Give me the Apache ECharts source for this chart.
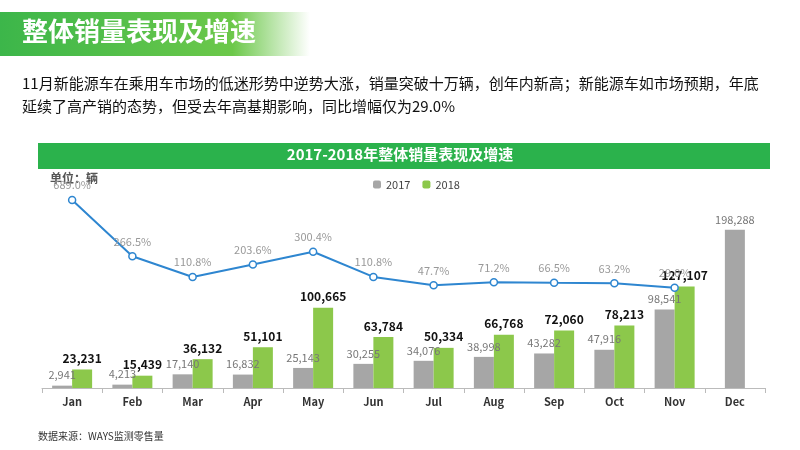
<!DOCTYPE html><html><head><meta charset="utf-8">
<script src="https://cdn.jsdelivr.net/npm/echarts@6/dist/echarts.min.js"></script>
<style>html,body{margin:0;padding:0;background:#fff}#c{width:800px;height:450px}</style></head><body><div id="c"></div>
<script>
const categories=['Jan','Feb','Mar','Apr','May','Jun','Jul','Aug','Sep','Oct','Nov','Dec'];
const sales2017=[2941,4213,17140,16832,25143,30255,34076,38998,43282,47916,98541,'-'];
const sales2018=[23231,15439,36132,51101,100665,63784,50334,66768,72060,78213,127107,'-'];
const dec2017=['-','-','-','-','-','-','-','-','-','-','-',198288];
const growth=[689.0,266.5,110.8,203.6,300.4,110.8,47.7,71.2,66.5,63.2,29.0];
const fmt=v=>v.value.toLocaleString('en-US');
const F='"Microsoft YaHei","Noto Sans CJK SC",sans-serif';
const ch=echarts.init(document.getElementById('c'));
ch.setOption({
 animation:false,
 textStyle:{fontFamily:F},
 graphic:[
  {type:'rect',shape:{x:0,y:12,width:310,height:44},style:{fill:new echarts.graphic.LinearGradient(0,0,1,0,[{offset:0,color:'#3cb64a'},{offset:0.75,color:'#6cc84a'},{offset:1,color:'#ffffff'}])}},
  {type:'text',left:22,top:18,style:{text:'整体销量表现及增速',fill:'#fff',font:'bold 26px '+F}},
  {type:'text',left:22,top:72,style:{text:'11月新能源车在乘用车市场的低迷形势中逆势大涨，销量突破十万辆，创年内新高；新能源车如市场预期，年底\n延续了高产销的态势，但受去年高基期影响，同比增幅仅为29.0%',fill:'#111',font:'15px '+F,lineHeight:23}},
  {type:'rect',shape:{x:38,y:143,width:732,height:26},style:{fill:'#2bb24c'}},
  {type:'text',left:'center',top:147,style:{text:'2017-2018年整体销量表现及增速',fill:'#fff',font:'bold 15px '+F}},
  {type:'text',left:50,top:172,style:{text:'单位：辆',fill:'#555',font:'bold 12px '+F}},
  {type:'text',left:38,top:431,style:{text:'数据来源：WAYS监测零售量',fill:'#333',font:'10px '+F}}
 ],
 legend:{top:174,left:368,itemWidth:8,itemHeight:8,itemGap:12,textStyle:{fontSize:11,color:'#444'},data:['2017','2018']},
 grid:{left:42,right:35,top:175,bottom:62},
 xAxis:[{type:'category',data:categories,axisTick:{show:true},axisLine:{lineStyle:{color:'#bbb'}},axisLabel:{color:'#333',fontWeight:'bold',fontSize:11}},
        {type:'category',data:categories,show:false}],
 yAxis:[{type:'value',min:0,max:267000,show:false},{type:'value',min:-724,max:877,show:false}],
 series:[
  {name:'2017',type:'bar',data:sales2017,barWidth:20,barGap:'0%',itemStyle:{color:'#a6a6a6'},label:{show:true,position:'top',color:'#777',fontSize:11,formatter:fmt}},
  {name:'2018',type:'bar',data:sales2018,barWidth:20,itemStyle:{color:'#8cc84b'},label:{show:true,position:'top',color:'#111',fontWeight:'bold',fontSize:12,formatter:fmt}},
  {name:'2017',type:'bar',xAxisIndex:1,data:dec2017,barWidth:20,itemStyle:{color:'#a6a6a6'},label:{show:true,position:'top',color:'#777',fontSize:11,formatter:fmt}},
  {name:'增速',type:'line',yAxisIndex:1,data:growth,symbol:'circle',symbolSize:7,itemStyle:{color:'#fff',borderColor:'#2e86d0',borderWidth:1.5},lineStyle:{color:'#2e86d0',width:2},label:{show:true,position:'top',color:'#999',fontSize:11,formatter:p=>p.value.toFixed(1)+'%'}}
 ]
});
</script></body></html>
